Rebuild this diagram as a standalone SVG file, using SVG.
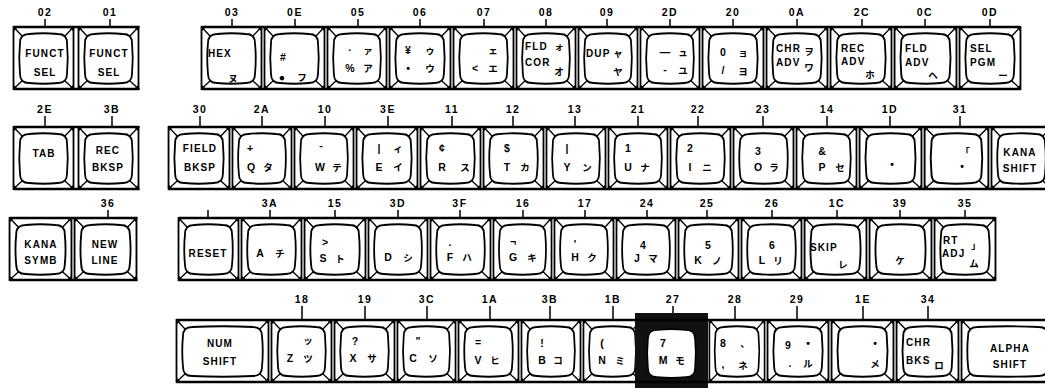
<svg xmlns="http://www.w3.org/2000/svg" xmlns:xlink="http://www.w3.org/1999/xlink" width="1045" height="388" viewBox="0 0 1045 388">
<style>
.fr{fill:#fff;stroke:#000;stroke-width:1.8}
.cap{fill:#fff;stroke:#000;stroke-width:1.8}
.bv{fill:none;stroke:#000;stroke-width:1.3}
.blob{fill:#000}
.gl{stroke:#000;stroke-width:2.6}
.tk{stroke:#000;stroke-width:1.5}
.lb{font-family:"Liberation Sans",Arial,sans-serif;font-weight:bold;font-size:10.5px;letter-spacing:1.5px;text-anchor:middle;fill:#000}
.w{font-family:"Liberation Sans",Arial,sans-serif;font-weight:bold;font-size:10px;letter-spacing:1.1px;fill:#000}
.m{text-anchor:middle}
.ch{font-family:"Liberation Sans",Arial,sans-serif;font-weight:bold;font-size:10.5px;text-anchor:middle;fill:#000}
.kn{font-family:"Noto Sans CJK JP",sans-serif;font-weight:bold;font-size:9.5px;text-anchor:middle;fill:#000}
</style>
<defs>
<g id="kf">
<rect class="fr" x="1.5" y="0" width="60" height="62"/>
<path class="cap" d="M17 7 Q31.5 5.5 46 7 Q55 7 55 16 Q56.5 31 55 47 Q55 56 46 56 Q31.5 57.5 17 56 Q8 56 8 47 Q6.5 31 8 16 Q8 7 17 7Z"/>
<path class="bv" d="M2.5 1 L10.25 9.25 M60.5 1 L52.75 9.25 M2.5 61 L10.25 53.75 M60.5 61 L52.75 53.75"/>
<path class="blob" d="M1.5 0 h4.5 L1.5 4.5Z M61.5 0 h-4.5 L61.5 4.5Z M1.5 62 h4.5 L1.5 57.5Z M61.5 62 h-4.5 L61.5 57.5Z"/>
</g>
<g id="kfw">
<rect class="fr" x="1.5" y="0" width="92" height="62"/>
<path class="cap" d="M17 7 Q47.5 5.5 78 7 Q87 7 87 16 Q88.5 31 87 47 Q87 56 78 56 Q47.5 57.5 17 56 Q8 56 8 47 Q6.5 31 8 16 Q8 7 17 7Z"/>
<path class="bv" d="M2.5 1 L10.25 9.25 M92.5 1 L84.75 9.25 M2.5 61 L10.25 53.75 M92.5 61 L84.75 53.75"/>
<path class="blob" d="M1.5 0 h4.5 L1.5 4.5Z M93.5 0 h-4.5 L93.5 4.5Z M1.5 62 h4.5 L1.5 57.5Z M93.5 62 h-4.5 L93.5 57.5Z"/>
</g>
</defs>
<rect width="1045" height="388" fill="#fff"/>

<!-- ROW 1 -->
<g id="k02"><use href="#kf" transform="translate(12 27)"/><text class="lb" x="45" y="16">02</text><text class="w m" x="45" y="57">FUNCT</text><text class="w m" x="45" y="76">SEL</text></g>
<g id="k01"><use href="#kf" transform="translate(77 27)"/><text class="lb" x="110" y="16">01</text><text class="w m" x="109" y="57">FUNCT</text><text class="w m" x="109" y="76">SEL</text></g>

<g id="k03"><use href="#kf" transform="translate(200 27)"/><text class="lb" x="232" y="16">03</text><text class="w" x="208" y="57">HEX</text><text class="kn" x="233" y="82">ヌ</text></g>
<g id="k0E"><use href="#kf" transform="translate(263 27)"/><text class="lb" x="295" y="16">0E</text><text class="ch" x="283" y="61">#</text><text class="ch" x="282" y="81">●</text><text class="kn" x="302" y="81">フ</text></g>
<g id="k05"><use href="#kf" transform="translate(326 27) scale(0.984 1)"/><text class="lb" x="358" y="16">05</text><text class="ch" x="350" y="54">·</text><text class="kn" x="368" y="54">ァ</text><text class="ch" x="350" y="72">%</text><text class="kn" x="368" y="72">ア</text></g>
<g id="k06"><use href="#kf" transform="translate(388 27) scale(1.016 1)"/><text class="lb" x="420" y="16">06</text><text class="ch" x="408" y="54">¥</text><text class="kn" x="430" y="54">ゥ</text><text class="ch" x="408" y="72">•</text><text class="kn" x="430" y="72">ウ</text></g>
<g id="k07"><use href="#kf" transform="translate(452 27)"/><text class="lb" x="484" y="16">07</text><text class="kn" x="493" y="54">ェ</text><text class="ch" x="475" y="72">&lt;</text><text class="kn" x="493" y="72">エ</text></g>
<g id="k08"><use href="#kf" transform="translate(515 27) scale(0.984 1)"/><text class="lb" x="546" y="16">08</text><text class="w" x="525" y="50">FLD</text><text class="w" x="525" y="66">COR</text><text class="kn" x="559" y="50">ォ</text><text class="kn" x="559" y="75">オ</text></g>
<g id="k09"><use href="#kf" transform="translate(577 27) scale(0.984 1)"/><text class="lb" x="607" y="16">09</text><text class="w" x="586" y="57">DUP</text><text class="kn" x="618" y="57">ャ</text><text class="kn" x="618" y="75">ヤ</text></g>
<g id="k2D"><use href="#kf" transform="translate(639 27) scale(0.984 1)"/><text class="lb" x="670" y="16">2D</text><text class="ch" x="665" y="56">—</text><text class="kn" x="683" y="56">ュ</text><text class="ch" x="665" y="73">-</text><text class="kn" x="683" y="74">ユ</text></g>
<g id="k20"><use href="#kf" transform="translate(701 27) scale(1.016 1)"/><text class="lb" x="733" y="16">20</text><text class="ch" x="723" y="56">0</text><text class="kn" x="743" y="56">ョ</text><text class="ch" x="723" y="74">/</text><text class="kn" x="743" y="75">ヨ</text></g>
<g id="k0A"><use href="#kf" transform="translate(765 27) scale(1.016 1)"/><text class="lb" x="797" y="16">0A</text><text class="w" x="776" y="52">CHR</text><text class="w" x="776" y="66">ADV</text><text class="kn" x="809" y="55">ヲ</text><text class="kn" x="809" y="71">ワ</text></g>
<g id="k2C"><use href="#kf" transform="translate(829 27) scale(1.016 1)"/><text class="lb" x="862" y="16">2C</text><text class="w" x="841" y="52">REC</text><text class="w" x="841" y="65">ADV</text><text class="kn" x="870" y="78">ホ</text></g>
<g id="k0C"><use href="#kf" transform="translate(893 27) scale(1.032 1)"/><text class="lb" x="925" y="16">0C</text><text class="w" x="905" y="52">FLD</text><text class="w" x="905" y="66">ADV</text><text class="kn" x="933" y="79">ヘ</text></g>
<g id="k0D"><use href="#kf" transform="translate(958 27) scale(1.016 1)"/><text class="lb" x="990" y="16">0D</text><text class="w" x="970" y="52">SEL</text><text class="w" x="970" y="66">PGM</text><text class="kn" x="1003" y="79">ー</text></g>

<!-- ROW 2 -->
<g id="k2E"><use href="#kf" transform="translate(12 127)"/><text class="lb" x="45" y="113">2E</text><text class="w m" x="44" y="157">TAB</text></g>
<g id="k3B-rec"><use href="#kf" transform="translate(77 127)"/><text class="lb" x="112" y="113">3B</text><text class="w m" x="108" y="154">REC</text><text class="w m" x="108" y="171">BKSP</text></g>

<g id="k30"><use href="#kf" transform="translate(167 127) scale(1.016 1)"/><text class="lb" x="200" y="113">30</text><text class="w m" x="200" y="152">FIELD</text><text class="w m" x="200" y="171">BKSP</text></g>
<g id="k2A"><use href="#kf" transform="translate(231 127) scale(0.984 1)"/><text class="lb" x="262" y="113">2A</text><text class="ch" x="250" y="152">+</text><text class="ch" x="251" y="171">Q</text><text class="kn" x="268" y="171">タ</text></g>
<g id="k10"><use href="#kf" transform="translate(293 127) scale(0.984 1)"/><text class="lb" x="325" y="113">10</text><text class="ch" x="321" y="149">-</text><text class="ch" x="320" y="171">W</text><text class="kn" x="337" y="171">テ</text></g>
<g id="k3E"><use href="#kf" transform="translate(355 127) scale(1.016 1)"/><text class="lb" x="388" y="113">3E</text><text class="ch" x="379" y="152">|</text><text class="kn" x="398" y="152">ィ</text><text class="ch" x="379" y="171">E</text><text class="kn" x="398" y="171">イ</text></g>
<g id="k11"><use href="#kf" transform="translate(419 127)"/><text class="lb" x="452" y="113">11</text><text class="ch" x="442" y="152">¢</text><text class="ch" x="442" y="171">R</text><text class="kn" x="465" y="171">ス</text></g>
<g id="k12"><use href="#kf" transform="translate(482 127)"/><text class="lb" x="513" y="113">12</text><text class="ch" x="507" y="152">$</text><text class="ch" x="507" y="171">T</text><text class="kn" x="525" y="171">カ</text></g>
<g id="k13"><use href="#kf" transform="translate(545 127) scale(0.984 1)"/><text class="lb" x="575" y="113">13</text><text class="ch" x="567" y="152">|</text><text class="ch" x="567" y="171">Y</text><text class="kn" x="587" y="171">ン</text></g>
<g id="k21"><use href="#kf" transform="translate(607 127) scale(0.984 1)"/><text class="lb" x="638" y="113">21</text><text class="ch" x="628" y="152">1</text><text class="ch" x="628" y="171">U</text><text class="kn" x="645" y="171">ナ</text></g>
<g id="k22"><use href="#kf" transform="translate(669 127)"/><text class="lb" x="698" y="113">22</text><text class="ch" x="690" y="152">2</text><text class="ch" x="690" y="171">I</text><text class="kn" x="707" y="171">ニ</text></g>
<g id="k23"><use href="#kf" transform="translate(732 127)"/><text class="lb" x="763" y="113">23</text><text class="ch" x="758" y="155">3</text><text class="ch" x="758" y="171">O</text><text class="kn" x="774" y="171">ラ</text></g>
<g id="k14"><use href="#kf" transform="translate(795 127)"/><text class="lb" x="827" y="113">14</text><text class="ch" x="822" y="155">&amp;</text><text class="ch" x="822" y="171">P</text><text class="kn" x="840" y="171">セ</text></g>
<g id="k1D"><use href="#kf" transform="translate(858 127) scale(1.032 1)"/><text class="lb" x="890" y="113">1D</text><text class="ch" x="892" y="168">•</text></g>
<g id="k31"><use href="#kf" transform="translate(923 127) scale(1.063 1)"/><text class="lb" x="960" y="113">31</text><text class="kn" x="965" y="155">「</text><text class="ch" x="962" y="170">•</text></g>
<g id="kana-shift"><use href="#kf" transform="translate(990 127)"/><text class="w m" x="1020" y="156">KANA</text><text class="w m" x="1020" y="172">SHIFT</text></g>

<!-- ROW 3 -->
<g id="kana-symb"><use href="#kf" transform="translate(8 218) scale(1.032 1)"/><text class="w m" x="41" y="248">KANA</text><text class="w m" x="41" y="264">SYMB</text></g>
<g id="k36"><use href="#kf" transform="translate(73 218) scale(1.032 1)"/><text class="lb" x="108" y="207">36</text><text class="w m" x="105" y="248">NEW</text><text class="w m" x="105" y="264">LINE</text></g>

<g id="reset"><use href="#kf" transform="translate(177 218)"/><text class="w m" x="208" y="257">RESET</text></g>
<g id="k3A"><use href="#kf" transform="translate(240 218)"/><text class="lb" x="270" y="207">3A</text><text class="ch" x="260" y="257">A</text><text class="kn" x="280" y="257">チ</text></g>
<g id="k15"><use href="#kf" transform="translate(303 218) scale(1.016 1)"/><text class="lb" x="335" y="207">15</text><text class="ch" x="325" y="246">&gt;</text><text class="ch" x="323" y="262">S</text><text class="kn" x="340" y="262">ト</text></g>
<g id="k3D"><use href="#kf" transform="translate(367 218) scale(0.984 1)"/><text class="lb" x="398" y="207">3D</text><text class="ch" x="388" y="261">D</text><text class="kn" x="408" y="261">シ</text></g>
<g id="k3F"><use href="#kf" transform="translate(429 218)"/><text class="lb" x="460" y="207">3F</text><text class="ch" x="450" y="246">.</text><text class="ch" x="450" y="261">F</text><text class="kn" x="467" y="261">ハ</text></g>
<g id="k16"><use href="#kf" transform="translate(492 218) scale(0.968 1)"/><text class="lb" x="523" y="207">16</text><text class="ch" x="513" y="245">¬</text><text class="ch" x="513" y="261">G</text><text class="kn" x="532" y="261">キ</text></g>
<g id="k17"><use href="#kf" transform="translate(553 218) scale(0.984 1)"/><text class="lb" x="585" y="207">17</text><text class="ch" x="575" y="248">'</text><text class="ch" x="575" y="261">H</text><text class="kn" x="592" y="261">ク</text></g>
<g id="k24"><use href="#kf" transform="translate(615 218) scale(0.984 1)"/><text class="lb" x="647" y="207">24</text><text class="ch" x="643" y="249">4</text><text class="ch" x="637" y="262">J</text><text class="kn" x="653" y="262">マ</text></g>
<g id="k25"><use href="#kf" transform="translate(677 218)"/><text class="lb" x="707" y="207">25</text><text class="ch" x="708" y="249">5</text><text class="ch" x="698" y="264">K</text><text class="kn" x="717" y="264">ノ</text></g>
<g id="k26"><use href="#kf" transform="translate(740 218)"/><text class="lb" x="772" y="207">26</text><text class="ch" x="772" y="249">6</text><text class="ch" x="762" y="264">L</text><text class="kn" x="778" y="264">リ</text></g>
<g id="k1C"><use href="#kf" transform="translate(803 218) scale(1.032 1)"/><text class="lb" x="837" y="207">1C</text><text class="w" x="810" y="251">SKIP</text><text class="kn" x="843" y="268">レ</text></g>
<g id="k39"><use href="#kf" transform="translate(868 218) scale(1.032 1)"/><text class="lb" x="900" y="207">39</text><text class="kn" x="900" y="264">ケ</text></g>
<g id="k35"><use href="#kf" transform="translate(933 218) scale(1.016 1)"/><text class="lb" x="965" y="207">35</text><text class="w" x="943" y="244">RT</text><text class="w" x="942" y="257">ADJ</text><text class="kn" x="976" y="249">」</text><text class="kn" x="974" y="267">ム</text></g>

<!-- ROW 4 -->
<g id="num-shift"><use href="#kfw" transform="translate(175 320)"/><text class="w m" x="220" y="347">NUM</text><text class="w m" x="220" y="365">SHIFT</text></g>
<g id="k18"><use href="#kf" transform="translate(270 320)"/><text class="lb" x="302" y="303">18</text><text class="kn" x="308" y="344">ッ</text><text class="ch" x="290" y="362">Z</text><text class="kn" x="308" y="362">ツ</text></g>
<g id="k19"><use href="#kf" transform="translate(333 320)"/><text class="lb" x="365" y="303">19</text><text class="ch" x="355" y="345">?</text><text class="ch" x="353" y="362">X</text><text class="kn" x="372" y="362">サ</text></g>
<g id="k3C"><use href="#kf" transform="translate(396 320) scale(0.968 1)"/><text class="lb" x="427" y="303">3C</text><text class="ch" x="418" y="345">"</text><text class="ch" x="413" y="362">C</text><text class="kn" x="433" y="362">ソ</text></g>
<g id="k1A"><use href="#kf" transform="translate(457 320)"/><text class="lb" x="490" y="303">1A</text><text class="ch" x="478" y="346">=</text><text class="ch" x="478" y="364">V</text><text class="kn" x="495" y="364">ヒ</text></g>
<g id="k3B-b"><use href="#kf" transform="translate(520 320) scale(0.984 1)"/><text class="lb" x="550" y="303">3B</text><text class="ch" x="542" y="347">!</text><text class="ch" x="542" y="364">B</text><text class="kn" x="558" y="364">コ</text></g>
<g id="k1B"><use href="#kf" transform="translate(582 320) scale(0.968 1)"/><text class="lb" x="613" y="303">1B</text><text class="ch" x="602" y="347">(</text><text class="ch" x="602" y="364">N</text><text class="kn" x="620" y="364">ミ</text></g>
<g id="k27"><use href="#kf" transform="translate(643 320) scale(0.968 1)"/><rect x="635" y="313" width="73" height="75" fill="#111"/><path d="M657 330 Q671.5 328.5 686 330 Q695 330 695 339 Q696.5 353.5 695 368 Q695 377 686 377 Q671.5 378.5 657 377 Q648 377 648 368 Q646.5 353.5 648 339 Q648 330 657 330Z" fill="#fff" stroke="#000" stroke-width="1.5"/><text class="lb" x="673" y="303">27</text><text class="ch" x="663" y="347">7</text><text class="ch" x="663" y="364">M</text><text class="kn" x="680" y="364">モ</text></g>
<g id="k28"><use href="#kf" transform="translate(708 320) scale(0.92 1)"/><text class="lb" x="735" y="303">28</text><text class="ch" x="723" y="347">8</text><text class="kn" x="745" y="347">、</text><text class="ch" x="723" y="368">,</text><text class="kn" x="743" y="369">ネ</text></g>
<g id="k29"><use href="#kf" transform="translate(766 320) scale(1.016 1)"/><text class="lb" x="797" y="303">29</text><text class="ch" x="788" y="349">9</text><text class="ch" x="808" y="347">•</text><text class="ch" x="790" y="367">.</text><text class="kn" x="808" y="367">ル</text></g>
<g id="k1E"><use href="#kf" transform="translate(830 320) scale(1.032 1)"/><text class="lb" x="863" y="303">1E</text><text class="ch" x="875" y="347">•</text><text class="kn" x="875" y="367">メ</text></g>
<g id="k34"><use href="#kf" transform="translate(895 320) scale(1.032 1)"/><text class="lb" x="928" y="303">34</text><text class="w" x="906" y="346">CHR</text><text class="w" x="906" y="364">BKS</text><text class="kn" x="939" y="369">ロ</text></g>
<g id="alpha-shift"><use href="#kfw" transform="translate(960 320) scale(1.01 1)"/><text class="w m" x="1010" y="352">ALPHA</text><text class="w m" x="1010" y="368">SHIFT</text></g>

<!-- group edges -->
<g id="group-edges">
<path class="gl" d="M13.5 27 H139.5 M13.5 89 H139.5 M201.5 27 H1020.5 M201.5 89 H1020.5 M13.5 127 H139.5 M13.5 189 H139.5 M168.5 127 H1045 M168.5 189 H1045 M9.5 218 H137.5 M9.5 280 H137.5 M178.5 218 H995.5 M178.5 280 H995.5 M176.5 320 H1045 M176.5 382 H1045"/>
</g>

<!-- connectors (leader ticks) -->
<g id="connectors">
<path class="tk" d="M45 19 V27 M110 19 V27 M232 19 V27 M295 19 V27 M358 19 V27 M420 19 V27 M484 19 V27 M546 19 V27 M607 19 V27 M670 19 V27 M733 19 V27 M797 19 V27 M862 19 V27 M925 19 V27 M990 19 V27"/>
<path class="tk" d="M45 116 V127 M112 116 V127 M200 116 V127 M262 116 V127 M325 116 V127 M388 116 V127 M452 116 V127 M513 116 V127 M575 116 V127 M638 116 V127 M698 116 V127 M763 116 V127 M827 116 V127 M890 116 V127 M960 116 V127"/>
<path class="tk" d="M108 210 V218 M208 210 V218 M270 210 V218 M335 210 V218 M398 210 V218 M460 210 V218 M523 210 V218 M585 210 V218 M647 210 V218 M707 210 V218 M772 210 V218 M837 210 V218 M900 210 V218 M965 210 V218"/>
<path class="tk" d="M302 306 V320 M365 306 V320 M427 306 V320 M490 306 V320 M550 306 V320 M613 306 V320 M673 306 V313 M735 306 V320 M797 306 V320 M863 306 V320 M928 306 V320"/>
</g>
</svg>
